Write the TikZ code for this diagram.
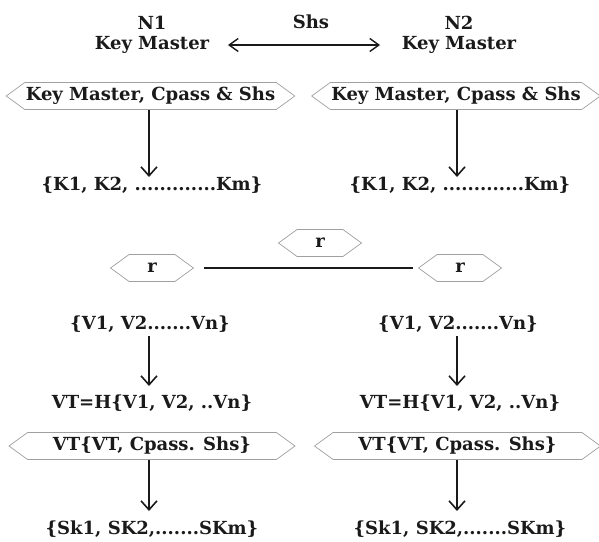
\documentclass[tikz,border=0pt]{standalone}
\usepackage{fontspec}
\setmainfont{DejaVu Serif}
\usetikzlibrary{arrows.meta,shapes.symbols}
\definecolor{ink}{HTML}{1A1A1A}
\definecolor{frame}{HTML}{A0A0A0}
\tikzset{
  txt/.style={text=ink,font=\bfseries\fontsize{18}{19.5}\selectfont,inner sep=0pt},
  hexbox/.style={txt,shape=signal,signal to=east and west,signal pointer angle=72,
     draw=frame,line width=0.7pt,minimum height=27pt,inner xsep=1pt},
  wide/.style={hexbox,minimum width=286pt},
  small/.style={hexbox,minimum width=83pt},
  flow/.style={draw=ink,line width=1.6pt,-{Straight Barb[length=9pt,width=16pt,line width=1.6pt]}},
  link/.style={draw=ink,line width=1.6pt}
}
\begin{document}
\begin{tikzpicture}[x=1pt,y=-1pt]
\useasboundingbox[fill=white] (0,0) rectangle (599,541);

% the two key masters
\node[txt,align=center] (n1) at (152,35) {N1\\Key Master};
\node[txt,align=center] (n2) at (459,35) {N2\\Key Master};
\node[txt] (shs) at (311,22) {Shs};
\coordinate (sl) at (228,45);
\coordinate (sr) at (380,45);
\draw[link,{Straight Barb[length=9pt,width=13pt,line width=1.4pt]}-{Straight Barb[length=9pt,width=13pt,line width=1.4pt]}] (sl) -- (sr);

% key generation
\node[wide] (km1) at (150.5,96) {Key Master, Cpass \& Shs};
\node[wide] (km2) at (456,96) {Key Master, Cpass \& Shs};
\node[txt] (k1) at (152,185) {\{K1, K2, .............Km\}};
\node[txt] (k2) at (460,185) {\{K1, K2, .............Km\}};
\draw[flow] (km1.south -| 149,0) -- (149,177);
\draw[flow] (km2.south -| 457,0) -- (457,177);

% shared random value
\node[small] (r0) at (320,243) {r};
\node[small] (r1) at (152,268) {r};
\node[small] (r2) at (460,268) {r};
\draw[link] ([xshift=10pt]r1.east) -- ([xshift=-5pt]r2.west);

% verification tokens
\node[txt] (v1) at (150,324) {\{V1, V2.......Vn\}};
\node[txt] (v2) at (458,324) {\{V1, V2.......Vn\}};
\node[txt] (h1) at (152,403) {VT=H\{V1, V2, ..Vn\}};
\node[txt] (h2) at (460,403) {VT=H\{V1, V2, ..Vn\}};
\draw[flow] (149,336) -- (149,386);
\draw[flow] (457,336) -- (457,386);

% session keys
\node[wide] (vt1) at (152,446) {VT\{VT, Cpass. Shs\}};
\node[wide] (vt2) at (457.5,446) {VT\{VT, Cpass. Shs\}};
\node[txt] (s1) at (152,529) {\{Sk1, SK2,.......SKm\}};
\node[txt] (s2) at (460,529) {\{Sk1, SK2,.......SKm\}};
\draw[flow] (vt1.south -| 149,0) -- (149,511);
\draw[flow] (vt2.south -| 457,0) -- (457,511);
\end{tikzpicture}
\end{document}
